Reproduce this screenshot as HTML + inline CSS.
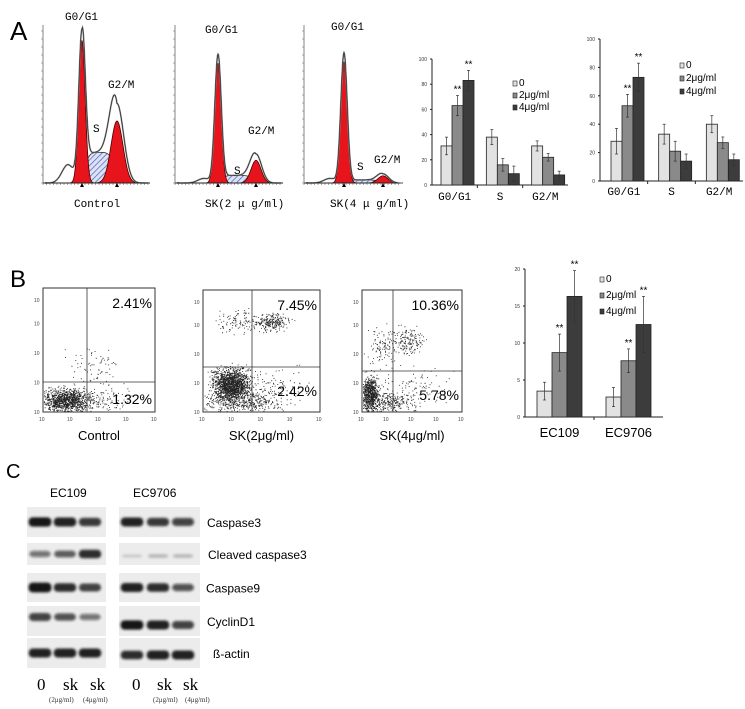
<!DOCTYPE html>
<html><head><meta charset="utf-8"><style>
html,body{margin:0;padding:0;background:#fff;}
svg{display:block;font-family:"Liberation Sans",sans-serif;}
.mono{font-family:"Liberation Mono","DejaVu Sans Mono",monospace;}
</style></head><body>
<svg id="fig" width="745" height="709" viewBox="0 0 745 709">
<defs>
<pattern id="hatch" width="4" height="4" patternUnits="userSpaceOnUse" patternTransform="rotate(45)">
<rect width="4" height="4" fill="#dde3f5"/><line x1="0" y1="0" x2="0" y2="4" stroke="#4a5fb8" stroke-width="1.4"/></pattern>
<filter id="blur" x="-30%" y="-80%" width="160%" height="260%"><feGaussianBlur stdDeviation="1.3"/></filter>
</defs>
<text x="10" y="40" font-size="26">A</text>
<text x="10" y="287" font-size="24">B</text>
<text x="6" y="478" font-size="20">C</text>
<g id="hist"></g>
<g id="barsA1"></g>
<g id="barsA2"></g>
<g id="scatter"></g>
<g id="barsB"></g>
<g id="blots"></g>
</svg>
<script>
// ---------- data ----------
const groupsA = ["G0/G1","S","G2/M"];
const seriesNames = ["0","2μg/ml","4μg/ml"];
const a1Values = [[31,63,83],[38,16,9],[31,22,8]];
const a1Errors = [[7,8,8],[6,5,6],[4,3,3]];
const a2Values = [[28,53,73],[33,21,14],[40,27,15]];
const a2Errors = [[9,8,10],[7,7,5],[6,4,4]];
const a1Stars = [[false,true,true],[false,false,false],[false,false,false]];
const a2Stars = [[false,true,true],[false,false,false],[false,false,false]];
const yTicksA = [0,20,40,60,80,100];
const groupsB = ["EC109","EC9706"];
const bValues = [[3.5,8.7,16.3],[2.7,7.6,12.5]];
const bErrors = [[1.2,2.5,3.5],[1.3,1.6,3.8]];
const bStars = [[false,true,true],[false,true,true]];
const yTicksB = [0,5,10,15,20];
const quadUR = ["2.41%","7.45%","10.36%"];
const quadLR = ["1.32%","2.42%","5.78%"];
const scatterLabels = ["Control","SK(2μg/ml)","SK(4μg/ml)"];
const histLabels = ["Control","SK(2 μ g/ml)","SK(4 μ g/ml)"];
const histG1 = [1.0,0.84,0.85];
const histG2 = [0.52,0.19,0.06];
const histS = [0.20,0.05,0.02];
const blotRows = ["Caspase3","Cleaved caspase3","Caspase9","CyclinD1","ß-actin"];
const blotIntensity = [
 [[0.9,0.85,0.75],[0.85,0.75,0.7]],
 [[0.45,0.55,0.8],[0.05,0.12,0.12]],
 [[0.95,0.8,0.7],[0.85,0.8,0.6]],
 [[0.7,0.6,0.45],[0.9,0.85,0.7]],
 [[0.85,0.85,0.85],[0.8,0.85,0.85]]];

const NS="http://www.w3.org/2000/svg";
function mk(tag,attrs,parent,text){const e=document.createElementNS(NS,tag);for(const k in attrs)e.setAttribute(k,attrs[k]);if(text!==undefined)e.textContent=text;parent.appendChild(e);return e;}

// ---------- histograms ----------
const hist=document.getElementById('hist');
const histAxes=[{x0:43,x1:150,g1:82,g2:117},{x0:175,x1:283,g1:218,g2:256},{x0:304,x1:400,g1:344,g2:383}];
const base=183, hTop=30;
histAxes.forEach((h,i)=>{
  const sc=(v)=>base-v*(base-hTop);
  const g=mk('g',{},hist);
  
  
  const gauss=(x,c,s)=>Math.exp(-((x-c)*(x-c))/(2*s*s));
  const sd1=3.2, sd2=i==0?6:5;
  let p='M'+(h.g1)+' '+base;
  for(let x=h.g1;x<=h.g2;x+=1){const v=histS[i]*(1-Math.pow((x-(h.g1+h.g2)/2)/((h.g2-h.g1)/2),4));p+=' L'+x+' '+sc(Math.max(v,0));}
  p+=' L'+h.g2+' '+base+' Z';
  mk('path',{d:p,fill:'url(#hatch)',stroke:'#333','stroke-width':0.8},g);
  let q='M'+(h.g2-4*sd2)+' '+base;
  for(let x=h.g2-4*sd2;x<=h.g2+4*sd2;x+=0.5)q+=' L'+x+' '+sc(histG2[i]*0.78*gauss(x,h.g2,sd2));
  q+=' Z';
  mk('path',{d:q,fill:'#e8141b',stroke:'#400','stroke-width':0.8},g);
  let r='M'+(h.g1-4*sd1)+' '+base;
  for(let x=h.g1-4*sd1;x<=h.g1+4*sd1;x+=0.25)r+=' L'+x+' '+sc(histG1[i]*0.93*gauss(x,h.g1,sd1));
  r+=' Z';
  mk('path',{d:r,fill:'#e8141b',stroke:'#400','stroke-width':0.8},g);
  let o='M'+(h.x0+3)+' '+(base-1);
  for(let x=h.x0+3;x<=h.x1-2;x+=0.5){
    let v=histG1[i]*gauss(x,h.g1,sd1)+histG2[i]*gauss(x,h.g2,sd2*1.1);
    const m=(h.g1+h.g2)/2,w=(h.g2-h.g1)/2;
    if(x>h.g1&&x<h.g2)v+=histS[i]*Math.max(0,1-Math.pow((x-m)/w,4));
    v+=0.03*gauss(x,h.g1-14,6)*(i==0?4:1);
    o+=' L'+x+' '+sc(v);
  }
  mk('path',{d:o,fill:'none',stroke:'#888','stroke-width':1.6},g);
  mk('path',{d:o,fill:'none',stroke:'#222','stroke-width':0.6},g);
  mk('line',{x1:h.x0,y1:base,x2:h.x1,y2:base,stroke:'#222','stroke-width':1},g);
  mk('line',{x1:h.x0,y1:base,x2:h.x0,y2:25,stroke:'#666','stroke-width':0.8},g);
  for(let x=h.x0;x<=h.x1;x+=3.5)mk('line',{x1:x,y1:base,x2:x,y2:base+2,stroke:'#444','stroke-width':0.5},g);
  for(let y=base;y>=28;y-=8)mk('line',{x1:h.x0,y1:y,x2:h.x0-2,y2:y,stroke:'#666','stroke-width':0.5},g);
  [h.g1,h.g2].forEach(x=>mk('path',{d:`M${x-2} ${base+4} L${x+2} ${base+4} L${x} ${base} Z`,fill:'#000'},g));
  const lab=[[65,20],[205,33],[331,30]][i];
  const t1=mk('text',{x:lab[0],y:lab[1],'font-size':11,class:'mono'},g,'G0/G1');
  
  const sp=[[93,132],[234,174],[357,170]][i];
  mk('text',{x:sp[0],y:sp[1],'font-size':11,class:'mono'},g,'S');
  const gp=[[108,88],[248,134],[374,163]][i];
  mk('text',{x:gp[0],y:gp[1],'font-size':11,class:'mono'},g,'G2/M');
  const xl=mk('text',{x:[74,205,330][i],y:207,'font-size':11,class:'mono'},g,histLabels[i]);
  
});

// ---------- bar charts ----------
const fills=['#e2e2e2','#8a8a8a','#3c3c3c'];
function barChart(gid,opt,vals,errs,stars,cats,ticks,ymax){
  const g=document.getElementById(gid);
  const y=v=>opt.y0-(v/ymax)*(opt.y0-opt.yTop);
  mk('line',{x1:opt.x0,y1:opt.y0,x2:opt.x0,y2:opt.yTop,stroke:'#222','stroke-width':1},g);
  mk('line',{x1:opt.x0,y1:opt.y0,x2:opt.x1,y2:opt.y0,stroke:'#222','stroke-width':1},g);
  ticks.forEach(t=>{mk('line',{x1:opt.x0-2,y1:y(t),x2:opt.x0,y2:y(t),stroke:'#222'},g);
    const tl=mk('text',{x:opt.x0-5,y:y(t)+2,'font-size':5,'text-anchor':'end',fill:'#333'},g,t);
    });
  const gw=(opt.x1-opt.x0)/cats.length;
  for(let k=1;k<cats.length;k++)mk('line',{x1:opt.x0+gw*k,y1:opt.y0,x2:opt.x0+gw*k,y2:opt.y0+3,stroke:'#222'},g);
  cats.forEach((c,ci)=>{
    vals[ci].forEach((v,si)=>{
      const bx=opt.x0+gw*ci+opt.pad+si*opt.bw;
      const r=mk('rect',{x:bx,y:y(v),width:opt.bw,height:opt.y0-y(v),fill:fills[si],stroke:'#222','stroke-width':0.8},g);
      
      
      const cx=bx+opt.bw/2,e=errs[ci][si];
      mk('line',{x1:cx,y1:y(v-e),x2:cx,y2:y(v+e),stroke:'#333','stroke-width':0.7},g);
      mk('line',{x1:cx-1.5,y1:y(v+e),x2:cx+1.5,y2:y(v+e),stroke:'#333','stroke-width':0.7},g);
      mk('line',{x1:cx-1.5,y1:y(v-e),x2:cx+1.5,y2:y(v-e),stroke:'#333','stroke-width':0.7},g);
      if(stars[ci][si]){const s=mk('text',{x:cx,y:y(v+e)-3,'font-size':10,'text-anchor':'middle'},g,'**');
        }
    });
    const cl=mk('text',{x:opt.x0+gw*ci+gw/2,y:opt.labY,'font-size':opt.labFs,'text-anchor':'middle',class:opt.labClass||''},g,c);
    
  });
  seriesNames.forEach((n,si)=>{
    const ly=opt.legY+si*opt.legDy;
    mk('rect',{x:opt.legX,y:ly-5,width:4,height:5,fill:fills[si],stroke:'#222','stroke-width':0.6},g);
    const lt=mk('text',{x:opt.legX+6,y:ly,'font-size':opt.legFs},g,n);
    
  });
}
barChart('barsA1',{x0:432,x1:568,y0:185,yTop:59,bw:11,pad:9,labY:200,labFs:11,labClass:'mono',legX:513,legY:86,legDy:12,legFs:10},a1Values,a1Errors,a1Stars,groupsA,yTicksA,100);
barChart('barsA2',{x0:600,x1:743,y0:181,yTop:39,bw:11,pad:11,labY:195,labFs:11,labClass:'mono',legX:680,legY:68,legDy:13,legFs:10},a2Values,a2Errors,a2Stars,groupsA,yTicksA,100);
barChart('barsB',{x0:525,x1:663,y0:417,yTop:269,bw:15,pad:12,labY:437,labFs:13,legX:600,legY:282,legDy:16,legFs:10},bValues,bErrors,bStars,groupsB,yTicksB,20);

// ---------- scatter ----------
const sc=document.getElementById('scatter');
const boxes=[{x0:43,x1:155,y0:288,y1:412,qx:87,qy:382},
             {x0:203,x1:320,y0:290,y1:412,qx:252,qy:367},
             {x0:362,x1:462,y0:290,y1:412,qx:393,qy:371}];
let seed=7;function rnd(){seed=(seed*16807)%2147483647;return seed/2147483647;}
function nrm(){return (rnd()+rnd()+rnd()-1.5)/0.75;}
boxes.forEach((b,i)=>{
  const g=mk('g',{},sc);
  
  
  let path='';
  const add=(n,cx,cy,sx,sy)=>{for(let k=0;k<n;k++){const x=cx+nrm()*sx,y=cy+nrm()*sy;
    if(x>b.x0+1&&x<b.x1-1&&y>b.y0+1&&y<b.y1-1)path+=`M${x.toFixed(1)} ${y.toFixed(1)}h0.9v0.9h-0.9z`;}};
  const w=b.x1-b.x0;
  if(i==0){add(900,b.x0+22,b.y1-12,16,9);add(300,b.x0+35,b.y1-10,30,8);add(70,b.x0+50,b.qy-18,20,15);add(50,b.qx+20,b.y1-15,25,10);}
  if(i==1){add(1600,b.x0+28,b.qy+18,13,12);add(400,b.x0+40,b.y1-10,28,7);add(250,b.qx+20,b.qy-45,12,6);add(100,b.qx-15,b.qy-45,15,8);add(120,b.qx+20,b.y1-25,25,15);}
  if(i==2){add(700,b.x0+8,b.qy+22,6,12);add(300,b.x0+25,b.y1-10,20,8);add(150,b.qx+15,b.qy-30,10,10);add(120,b.qx-10,b.qy-25,14,15);add(100,b.qx+20,b.y1-25,25,15);}
  mk('path',{d:path,fill:'#222'},g);
  mk('rect',{x:b.x0,y:b.y0,width:w,height:b.y1-b.y0,fill:'none',stroke:'#333','stroke-width':1},g);
  mk('line',{x1:b.qx,y1:b.y0,x2:b.qx,y2:b.y1,stroke:'#333','stroke-width':0.8},g);
  mk('line',{x1:b.x0,y1:b.qy,x2:b.x1,y2:b.qy,stroke:'#333','stroke-width':0.8},g);
  for(let k=0;k<=4;k++){const yy=b.y1-k*(b.y1-b.y0)/4.2;const xx=b.x0+k*w/4;
    mk('text',{x:b.x0-9,y:yy+(k==4?8:2),'font-size':5,fill:'#444'},g,'10');
    mk('text',{x:xx-4,y:b.y1+9,'font-size':5,fill:'#444'},g,'10');}
  const u=mk('text',{x:b.x1-3,y:b.y0+20,'font-size':14,'text-anchor':'end'},g,quadUR[i]);
  
  const l=mk('text',{x:b.x1-3,y:b.y1-8-(i==1?8:(i==2?4:0)),'font-size':14,'text-anchor':'end'},g,quadLR[i]);
  
  const t=mk('text',{x:(b.x0+b.x1)/2,y:440,'font-size':13,'text-anchor':'middle'},g,scatterLabels[i]);
  
});

// ---------- western blots ----------
const bl=document.getElementById('blots');
const rowY=[[507,537],[543,565],[573,602],[606,636],[638,668]];
const rowLabelX=[207,208,206,207,213];
const blocks=[{x0:27,x1:106,lanes:[40,65,90]},{x0:119,x1:200,lanes:[132,158,183]}];
const bandOffset=[[0,0],[0,2],[0,0],[-4,4],[0,2]];
mk('text',{x:50,y:497,'font-size':12},bl,'EC109');
mk('text',{x:133,y:497,'font-size':12},bl,'EC9706');
blotRows.forEach((name,ri)=>{
  const [ya,yb]=rowY[ri];const cy=(ya+yb)/2;
  blocks.forEach((bk,bi)=>{
    mk('rect',{x:bk.x0,y:ya,width:bk.x1-bk.x0,height:yb-ya,fill:'#ececec'},bl);
    bk.lanes.forEach((lx,li)=>{
      const it=blotIntensity[ri][bi][li];
      const bw=20+3*it, bh=3+7*it;
      const e=mk('rect',{x:lx-bw/2,y:cy+bandOffset[ri][bi]-bh/2,width:bw,height:bh,rx:4,fill:'#151515','fill-opacity':Math.min(1,it+0.1),filter:'url(#blur)'},bl);
      
    });
  });
  const t=mk('text',{x:rowLabelX[ri],y:cy+5,'font-size':12},bl,name);
  
});
[[37,'0'],[132,'0']].forEach(a=>mk('text',{x:a[0],y:690,'font-size':17,'font-family':'Liberation Serif, serif'},bl,a[1]));
[[63,'sk'],[90,'sk'],[157,'sk'],[183,'sk']].forEach(a=>mk('text',{x:a[0],y:690,'font-size':17,'font-family':'Liberation Serif, serif'},bl,a[1]));
[[49,'(2μg/ml)'],[83,'(4μg/ml)'],[153,'(2μg/ml)'],[185,'(4μg/ml)']].forEach(a=>mk('text',{x:a[0],y:702,'font-size':7,'font-family':'Liberation Serif, serif',fill:'#333'},bl,a[1]));
</script>
</body></html>
